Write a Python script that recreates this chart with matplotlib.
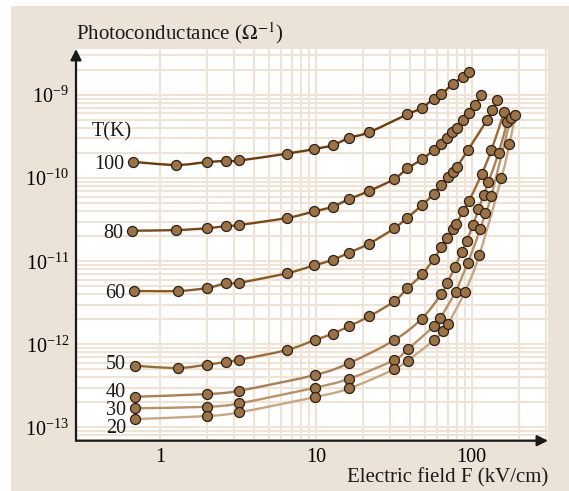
import numpy as np
from matplotlib import pyplot as plt
from matplotlib.path import Path
from matplotlib.patches import PathPatch, Rectangle
from matplotlib.ticker import LogFormatterMathtext, NullFormatter, FixedLocator

plt.rcParams['font.family'] = 'serif'
plt.rcParams['font.serif'] = ['Liberation Serif', 'DejaVu Serif']
plt.rcParams['mathtext.fontset'] = 'stix'

# photoconductance (1/Ohm) vs electric field (kV/cm)
f_100 = [0.67, 1.27, 2.0, 2.65, 3.23, 6.5, 9.8, 12.8, 16.4, 22.0, 38.7, 47.9, 57.1, 63.9, 75.4, 87.5, 96.5]
g_100 = [1.57e-10, 1.44e-10, 1.56e-10, 1.61e-10, 1.63e-10, 1.97e-10, 2.24e-10, 2.49e-10, 3.05e-10, 3.57e-10,
         5.86e-10, 6.98e-10, 9.08e-10, 1.02e-9, 1.35e-9, 1.64e-9, 1.87e-9]

f_80 = [0.665, 1.27, 2.0, 2.65, 3.23, 6.5, 9.8, 12.8, 16.4, 22.0, 31.8, 38.7, 47.9, 57.1, 63.9, 69.8, 75.2,
        80.2, 88.5, 96.2, 105.6, 115.4]
g_80 = [2.33e-11, 2.37e-11, 2.49e-11, 2.65e-11, 2.73e-11, 3.31e-11, 3.98e-11, 4.53e-11, 5.61e-11, 7.0e-11,
        9.75e-11, 1.31e-10, 1.68e-10, 2.18e-10, 2.59e-10, 3.04e-10, 3.56e-10, 4.01e-10, 5.05e-10, 6.03e-10,
        7.58e-10, 1.01e-9]

f_60 = [0.684, 1.30, 2.0, 2.65, 3.23, 6.5, 9.8, 12.8, 16.4, 22.0, 31.8, 38.7, 47.9, 57.1, 63.5, 70.6, 76.0,
        80.6, 94.5, 126.2, 136.0, 144.8]
g_60 = [4.38e-12, 4.38e-12, 4.76e-12, 5.42e-12, 5.51e-12, 7.15e-12, 8.93e-12, 1.04e-11, 1.27e-11, 1.63e-11,
        2.48e-11, 3.34e-11, 4.71e-11, 6.44e-11, 8.26e-11, 1.02e-10, 1.18e-10, 1.37e-10, 2.17e-10, 5.07e-10,
        6.6e-10, 8.63e-10]

f_50 = [0.69, 1.30, 2.0, 2.65, 3.23, 6.5, 9.9, 12.8, 16.4, 22.0, 31.8, 38.7, 48.1, 57.1, 63.9, 69.7, 76.0,
        79.8, 88.5, 95.9, 115.8, 133.6, 161.4]
g_50 = [5.52e-13, 5.19e-13, 5.69e-13, 6.13e-13, 6.53e-13, 8.53e-13, 1.13e-12, 1.34e-12, 1.66e-12, 2.17e-12,
        3.29e-12, 4.72e-12, 6.95e-12, 1.06e-11, 1.47e-11, 1.92e-11, 2.46e-11, 2.83e-11, 4.06e-11, 5.26e-11,
        1.11e-10, 2.15e-10, 6.19e-10]

f_40 = [0.69, 2.0, 3.23, 9.9, 16.4, 31.8, 47.9, 63.9, 69.5, 77.9, 86.5, 92.7, 102.1, 110.4, 119.6, 127.9,
        149.3, 168.7]
g_40 = [2.34e-13, 2.52e-13, 2.77e-13, 4.28e-13, 5.96e-13, 1.12e-12, 2.04e-12, 4.03e-12, 5.42e-12, 8.45e-12,
        1.30e-11, 1.77e-11, 2.71e-11, 4.21e-11, 6.21e-11, 8.9e-11, 2.03e-10, 4.69e-10]

f_30 = [0.69, 2.0, 3.23, 9.9, 16.4, 31.8, 38.8, 57.2, 63.0, 78.8, 94.4, 113.5, 122.3, 133.6, 178.3]
g_30 = [1.70e-13, 1.77e-13, 1.95e-13, 3.01e-13, 3.86e-13, 6.47e-13, 8.71e-13, 1.65e-12, 2.08e-12, 4.32e-12,
        9.57e-12, 2.43e-11, 3.77e-11, 6.09e-11, 5.33e-10]

f_20 = [0.69, 2.0, 3.23, 9.9, 16.4, 31.8, 38.8, 57.3, 65.7, 70.8, 90.4, 111.9, 155.4, 174.6, 190.7]
g_20 = [1.26e-13, 1.37e-13, 1.52e-13, 2.32e-13, 2.95e-13, 5.01e-13, 6.38e-13, 1.12e-12, 1.44e-12, 1.78e-12,
        4.28e-12, 1.18e-11, 1.01e-10, 2.55e-10, 5.74e-10]

temps = ["100", "80", "60", "50", "40", "30", "20"]
fields = [f_100, f_80, f_60, f_50, f_40, f_30, f_20]
conds = [g_100, g_80, g_60, g_50, g_40, g_30, g_20]

line_colors = ["#6a3d0b", "#7a4914", "#8a5920", "#9b6b36", "#ab7f50", "#ba9268", "#c7a783"]
label_dy = [0, 0, 0, 3, 5, 0, -5]


def smooth_path(xs, ys):
    # catmull-rom through the points, done in log space, drawn as bezier
    pts = np.column_stack([np.log10(xs), np.log10(ys)])
    n = len(pts)
    verts = [pts[0]]
    codes = [Path.MOVETO]
    for i in range(n - 1):
        p0 = pts[i - 1] if i > 0 else pts[i]
        p1, p2 = pts[i], pts[i + 1]
        p3 = pts[i + 2] if i + 2 < n else pts[i + 1]
        verts += [p1 + (p2 - p0) / 6, p2 - (p3 - p1) / 6, p2]
        codes += [Path.CURVE4] * 3
    return Path(10 ** np.array(verts), codes)


fig = plt.figure(figsize=(5.69, 4.91), dpi=100)
fig.patch.set_facecolor("white")
fig.add_artist(Rectangle((11 / 569, 0), 1 - 11 / 569, 1 - 6 / 491, transform=fig.transFigure,
                         facecolor="#ece3d8", edgecolor="none", zorder=-10))

ax = fig.add_axes([76 / 569, 1 - 440.7 / 491, (548 - 76) / 569, (440.7 - 49) / 491])
ax.set_facecolor("white")
ax.set_xscale("log")
ax.set_yscale("log")
ax.set_xlim(0.289, 309)
ax.set_ylim(6.92e-14, 3.58e-9)

grid_col = "#eee3d5"
ax.grid(axis="y", which="both", color=grid_col, lw=1.5, zorder=0)
for dec in [1, 10, 100]:
    for m in range(1, 10):
        if dec * m < 309:
            ax.axvline(dec * m, color=grid_col, lw=1.5, zorder=0)

for s in ax.spines.values():
    s.set_visible(False)
ax.annotate("", xy=(0, 1), xytext=(0, 0), xycoords="axes fraction",
            arrowprops=dict(arrowstyle="-|>", color="#1a1a1a", lw=1.6, mutation_scale=16, shrinkA=0, shrinkB=0))
ax.annotate("", xy=(1, 0), xytext=(0, 0), xycoords="axes fraction",
            arrowprops=dict(arrowstyle="-|>", color="#1a1a1a", lw=1.6, mutation_scale=16, shrinkA=0, shrinkB=0))

ax.xaxis.set_major_locator(FixedLocator([1, 10, 100]))
ax.xaxis.set_minor_formatter(NullFormatter())
ax.xaxis.set_major_formatter(plt.FuncFormatter(lambda v, p: "%g" % v))
ax.yaxis.set_major_locator(FixedLocator([1e-13, 1e-12, 1e-11, 1e-10, 1e-9]))
ax.yaxis.set_major_formatter(LogFormatterMathtext())
ax.yaxis.set_minor_formatter(NullFormatter())
ax.tick_params(which="both", length=0, labelsize=14.5)
ax.tick_params(axis="x", pad=5)
ax.tick_params(axis="y", pad=5)

for i in range(len(temps)):
    ax.add_patch(PathPatch(smooth_path(fields[i], conds[i]), fill=False, edgecolor=line_colors[i],
                           lw=1.7, zorder=2))
    ax.plot(fields[i], conds[i], "o", ms=7.2, mfc="#9c7247", mec="#2b1f14", mew=0.9, zorder=3)
    ax.annotate(temps[i], xy=(fields[i][0], conds[i][0]), xytext=(-6.5, label_dy[i]),
                textcoords="offset points", ha="right", va="center_baseline", fontsize=14.5, color="#1a1a1a")

ax.annotate("T(K)", xy=(f_100[0], g_100[0]), xytext=(-15, 23.5), textcoords="offset points",
            ha="center", va="center_baseline", fontsize=14.5, color="#1a1a1a")

fig.text(76 / 569, 1 - 33 / 491, r"Photoconductance ($\Omega^{-1}$)", ha="left", va="center",
         fontsize=15, color="#1a1a1a")
fig.text(548 / 569, 1 - 477.7 / 491, "Electric field F (kV/cm)", ha="right", va="center",
         fontsize=15, color="#1a1a1a")

fig.savefig("out.png", dpi=100)
